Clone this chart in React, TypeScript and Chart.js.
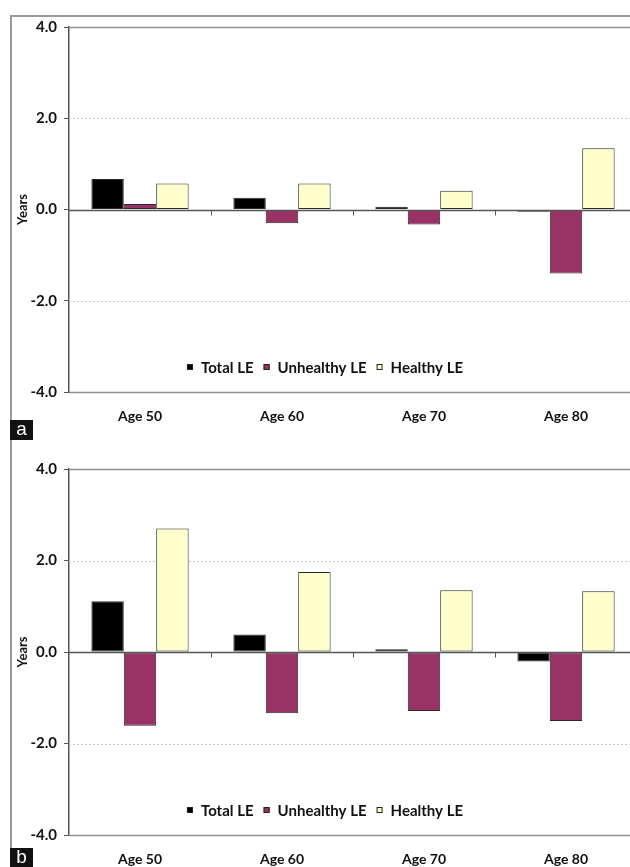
import React, { useEffect, useRef } from "react";
import { Chart, registerables } from "chart.js";

Chart.register(...registerables);

const categories = ["Age 50", "Age 60", "Age 70", "Age 80"];
const seriesNames = ["Total LE", "Unhealthy LE", "Healthy LE"];
const seriesColors = ["#000000", "#993366", "#FFFFCC"];

const panelATotal = [0.67, 0.26, 0.06, -0.05];
const panelAUnhealthy = [0.12, -0.3, -0.33, -1.4];
const panelAHealthy = [0.57, 0.57, 0.41, 1.34];

const panelBTotal = [1.11, 0.38, 0.06, -0.21];
const panelBUnhealthy = [-1.61, -1.34, -1.29, -1.51];
const panelBHealthy = [2.7, 1.75, 1.35, 1.33];

const yTicks = [-4, -2, 0, 2, 4];
const yTitle = "Years";

const FONT = "Lato, 'Open Sans', 'DejaVu Sans', sans-serif";

const decorPlugin = {
  id: "decor",
  beforeDatasetsDraw(chart: any) {
    const { ctx, chartArea: a, scales } = chart;
    const y = scales.y;
    ctx.save();
    for (const v of yTicks) {
      if (v === 0) continue;
      const py = Math.round(y.getPixelForValue(v)) + 0.5;
      ctx.beginPath();
      if (Math.abs(v) === 4) {
        ctx.strokeStyle = "#8f8f8f";
        ctx.lineWidth = 1.5;
        ctx.setLineDash([]);
      } else {
        ctx.strokeStyle = "#c4c4c4";
        ctx.lineWidth = 1;
        ctx.setLineDash([2, 2]);
      }
      ctx.moveTo(a.left, py);
      ctx.lineTo(a.right, py);
      ctx.stroke();
    }
    ctx.restore();
  },
  afterDatasetsDraw(chart: any) {
    const { ctx, chartArea: a, scales } = chart;
    const y = scales.y;
    const x = scales.x;
    const py = Math.round(y.getPixelForValue(0)) + 0.5;
    ctx.save();
    ctx.strokeStyle = "#555555";
    ctx.lineWidth = 1.5;
    ctx.beginPath();
    ctx.moveTo(a.left, py);
    ctx.lineTo(a.right, py);
    ctx.stroke();
    ctx.lineWidth = 1;
    for (let i = 0; i < categories.length - 1; i++) {
      const bx = Math.round((x.getPixelForValue(i) + x.getPixelForValue(i + 1)) / 2) + 0.5;
      ctx.beginPath();
      ctx.moveTo(bx, py);
      ctx.lineTo(bx, py + 5);
      ctx.stroke();
    }
    ctx.restore();
  },
  afterDraw(chart: any) {
    const { ctx, chartArea: a } = chart;
    ctx.save();
    ctx.font = `bold 15px ${FONT}`;
    ctx.textBaseline = "middle";
    const box = 6;
    const gapBoxText = 8;
    const gapItems = 10;
    const widths = seriesNames.map((n) => ctx.measureText(n).width);
    let total = 0;
    widths.forEach((w, i) => {
      total += box + gapBoxText + w + (i < widths.length - 1 ? gapItems : 0);
    });
    const cx = chart.width / 2 + 5;
    let xPos = cx - total / 2;
    const yc = a.bottom - 25;
    seriesNames.forEach((n, i) => {
      ctx.fillStyle = seriesColors[i];
      ctx.fillRect(xPos, yc - box / 2, box, box);
      ctx.strokeStyle = "#222";
      ctx.lineWidth = 1;
      ctx.strokeRect(xPos + 0.5, yc - box / 2 + 0.5, box - 1, box - 1);
      ctx.fillStyle = "#111";
      ctx.fillText(n, xPos + box + gapBoxText, yc + 1);
      xPos += box + gapBoxText + widths[i] + gapItems;
    });
    ctx.restore();
  },
};

type PanelProps = {
  total: number[];
  unhealthy: number[];
  healthy: number[];
  padTop: number;
  xHeight: number;
  top: number;
};

function Panel({ total, unhealthy, healthy, padTop, xHeight, top }: PanelProps) {
  const ref = useRef<HTMLCanvasElement | null>(null);
  useEffect(() => {
    if (!ref.current) return;
    const values = [total, unhealthy, healthy];
    const chart = new Chart(ref.current, {
      type: "bar",
      data: {
        labels: categories,
        datasets: seriesNames.map((name, i) => ({
          label: name,
          data: values[i],
          backgroundColor: seriesColors[i],
          borderColor: "#2a2a2a",
          borderWidth: 1,
          borderSkipped: false,
          categoryPercentage: 0.685,
          barPercentage: 1,
        })),
      },
      options: {
        responsive: false,
        animation: false,
        devicePixelRatio: 1,
        layout: { padding: { left: 0, right: 3, top: padTop, bottom: 0 } },
        plugins: {
          legend: { display: false },
          tooltip: { enabled: false },
          title: { display: false },
        },
        scales: {
          x: {
            grid: { display: false, drawTicks: false },
            border: { display: false },
            ticks: {
              padding: 16,
              color: "#111",
              font: { family: FONT, size: 14, weight: "bold" },
            },
            afterFit: (s: any) => {
              s.height = xHeight;
            },
          },
          y: {
            min: -4,
            max: 4,
            afterBuildTicks: (s: any) => {
              s.ticks = yTicks.map((v) => ({ value: v }));
            },
            ticks: {
              padding: 7,
              color: "#111",
              font: { family: FONT, size: 15, weight: "bold" },
              callback: (v: any) => Number(v).toFixed(1),
            },
            grid: {
              drawOnChartArea: false,
              drawTicks: true,
              tickLength: 5,
              color: "#555",
              lineWidth: 1,
            },
            border: { display: true, color: "#555", width: 1.5 },
            title: {
              display: true,
              text: yTitle,
              color: "#111",
              padding: { top: 15, bottom: 0 },
              font: { family: FONT, size: 13, weight: "bold" },
            },
            afterFit: (s: any) => {
              s.width = 69;
            },
          },
        },
      },
      plugins: [decorPlugin],
    });
    return () => chart.destroy();
  }, [total, unhealthy, healthy, padTop, xHeight]);
  return (
    <canvas
      ref={ref}
      width={640}
      height={440}
      style={{ position: "absolute", left: 0, top, width: 640, height: 440 }}
    />
  );
}

const labelBox: React.CSSProperties = {
  position: "absolute",
  left: 10,
  width: 23,
  height: 20,
  background: "#111",
  color: "#fff",
  fontFamily: "'Liberation Sans', Arial, sans-serif",
  fontSize: 19,
  lineHeight: "18px",
  textAlign: "center",
};

export default function App() {
  return (
    <div
      style={{
        position: "fixed",
        left: 0,
        top: 0,
        width: 630,
        height: 867,
        overflow: "hidden",
        background: "#fff",
      }}
    >
      <div
        style={{
          position: "absolute",
          left: 10,
          top: 15,
          width: 700,
          height: 900,
          borderLeft: "2px solid #9a9a9a",
          borderTop: "2px solid #9a9a9a",
        }}
      />
      <Panel
        total={panelATotal}
        unhealthy={panelAUnhealthy}
        healthy={panelAHealthy}
        padTop={27}
        xHeight={48}
        top={0}
      />
      <Panel
        total={panelBTotal}
        unhealthy={panelBUnhealthy}
        healthy={panelBHealthy}
        padTop={29}
        xHeight={45}
        top={440}
      />
      <div style={{ ...labelBox, top: 420 }}>a</div>
      <div style={{ ...labelBox, top: 848 }}>b</div>
    </div>
  );
}
